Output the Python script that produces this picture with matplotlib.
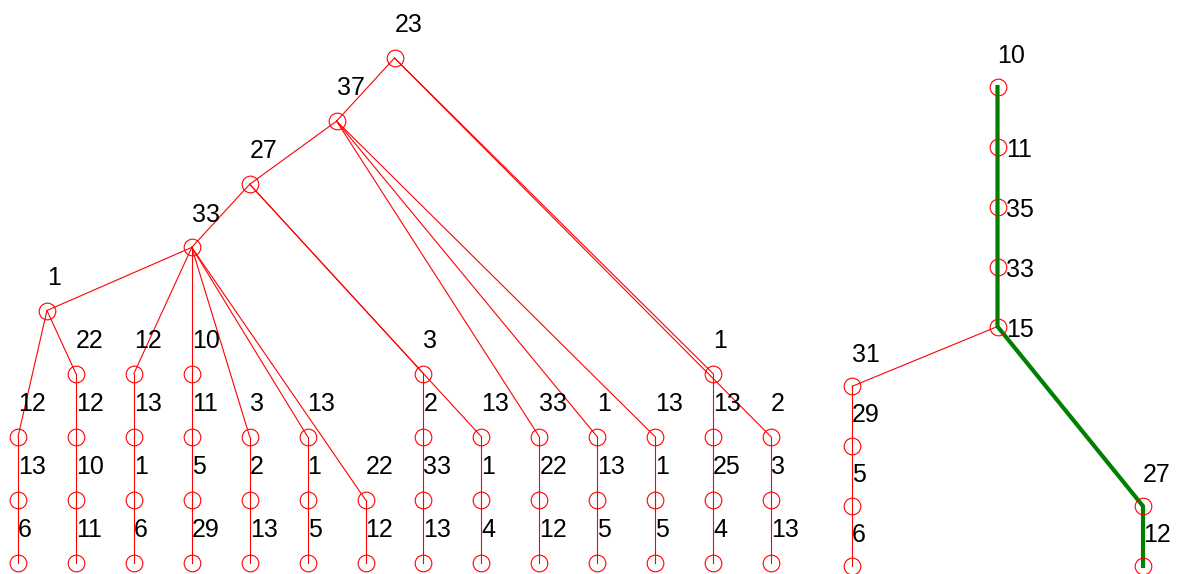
import matplotlib
matplotlib.use("Agg")
import matplotlib.pyplot as plt
import numpy as np

# tree 1: node labels and parent index (-1 = root), children listed in drawing order
left_labels = [23, 37, 27, 33, 1,
               12, 13, 6,
               22, 12, 10, 11,
               12, 13, 1, 6,
               10, 11, 5, 29,
               3, 2, 13,
               13, 1, 5,
               22, 12,
               3, 2, 33, 13,
               13, 1, 4,
               33, 22, 12,
               1, 13, 5,
               13, 1, 5,
               1, 13, 25, 4,
               2, 3, 13]
left_parent = [-1, 0, 1, 2, 3,
               4, 5, 6,
               4, 8, 9, 10,
               3, 12, 13, 14,
               3, 16, 17, 18,
               3, 20, 21,
               3, 23, 24,
               3, 26,
               2, 28, 29, 30,
               2, 32, 33,
               1, 35, 36,
               1, 38, 39,
               1, 41, 42,
               0, 44, 45, 46,
               0, 48, 49]

# tree 2
right_labels = [10, 11, 35, 33, 15, 31, 29, 5, 6, 27, 12]
right_parent = [-1, 0, 1, 2, 3, 4, 5, 6, 7, 4, 9]
right_path = [0, 1, 2, 3, 4, 9, 10]       # highlighted branch
right_side = [1, 2, 3, 4]                 # labels written beside the node


def layout(parent):
    n = len(parent)
    kids = [[] for _ in range(n)]
    for i, p in enumerate(parent):
        if p >= 0:
            kids[p].append(i)
    root = parent.index(-1)
    height = np.zeros(n)
    leaves = {}
    order = []

    def walk(i):
        if not kids[i]:
            leaves[i] = [len(order)]
            order.append(i)
            return 0
        leaves[i] = []
        h = 0
        for c in kids[i]:
            h = max(h, walk(c) + 1)
            leaves[i] += leaves[c]
        height[i] = h
        return h

    walk(root)
    # x = mean leaf column of the subtree, y = level counted from the leaves
    x = np.array([np.mean(leaves[i]) for i in range(n)])
    y = height.max() - height
    return x, y


def draw(ax, labels, parent, side=(), path=()):
    x, y = layout(parent)
    for i, p in enumerate(parent):
        if p >= 0:
            ax.plot([x[p], x[i]], [y[p], y[i]], color="red", lw=0.8,
                    clip_on=False, zorder=2)
    if path:
        ax.plot(x[list(path)], y[list(path)], color="green", lw=3,
                solid_joinstyle="miter", clip_on=False, zorder=3)
    ax.plot(x, y, "o", ms=12, mfc="none", mec="red", mew=0.8,
            clip_on=False, zorder=4)
    for i, lab in enumerate(labels):
        if i in side:
            ax.annotate(str(lab), (x[i], y[i]), xytext=(6, -2.5),
                        textcoords="offset points", ha="left", va="center",
                        fontsize=18, annotation_clip=False)
        else:
            ax.text(x[i], y[i] - 0.52, str(lab), ha="left", va="center",
                    fontsize=18, clip_on=False)
    ax.set_xlim(x.min(), x.max())
    ax.set_ylim(y.max(), 0)
    ax.axis("off")


plt.rcParams["font.family"] = ["Liberation Sans", "DejaVu Sans"]
W, H = 1179, 574
fig = plt.figure(figsize=(W / 100, H / 100), dpi=100)

ax1 = fig.add_axes([18 / W, 1 - 563 / H, (771 - 18) / W, (563 - 58) / H])
draw(ax1, left_labels, left_parent)

ax2 = fig.add_axes([852 / W, 1 - 566 / H, (1143 - 852) / W, (566 - 87) / H])
draw(ax2, right_labels, right_parent, side=right_side, path=right_path)

fig.savefig("out.png", dpi=100)
